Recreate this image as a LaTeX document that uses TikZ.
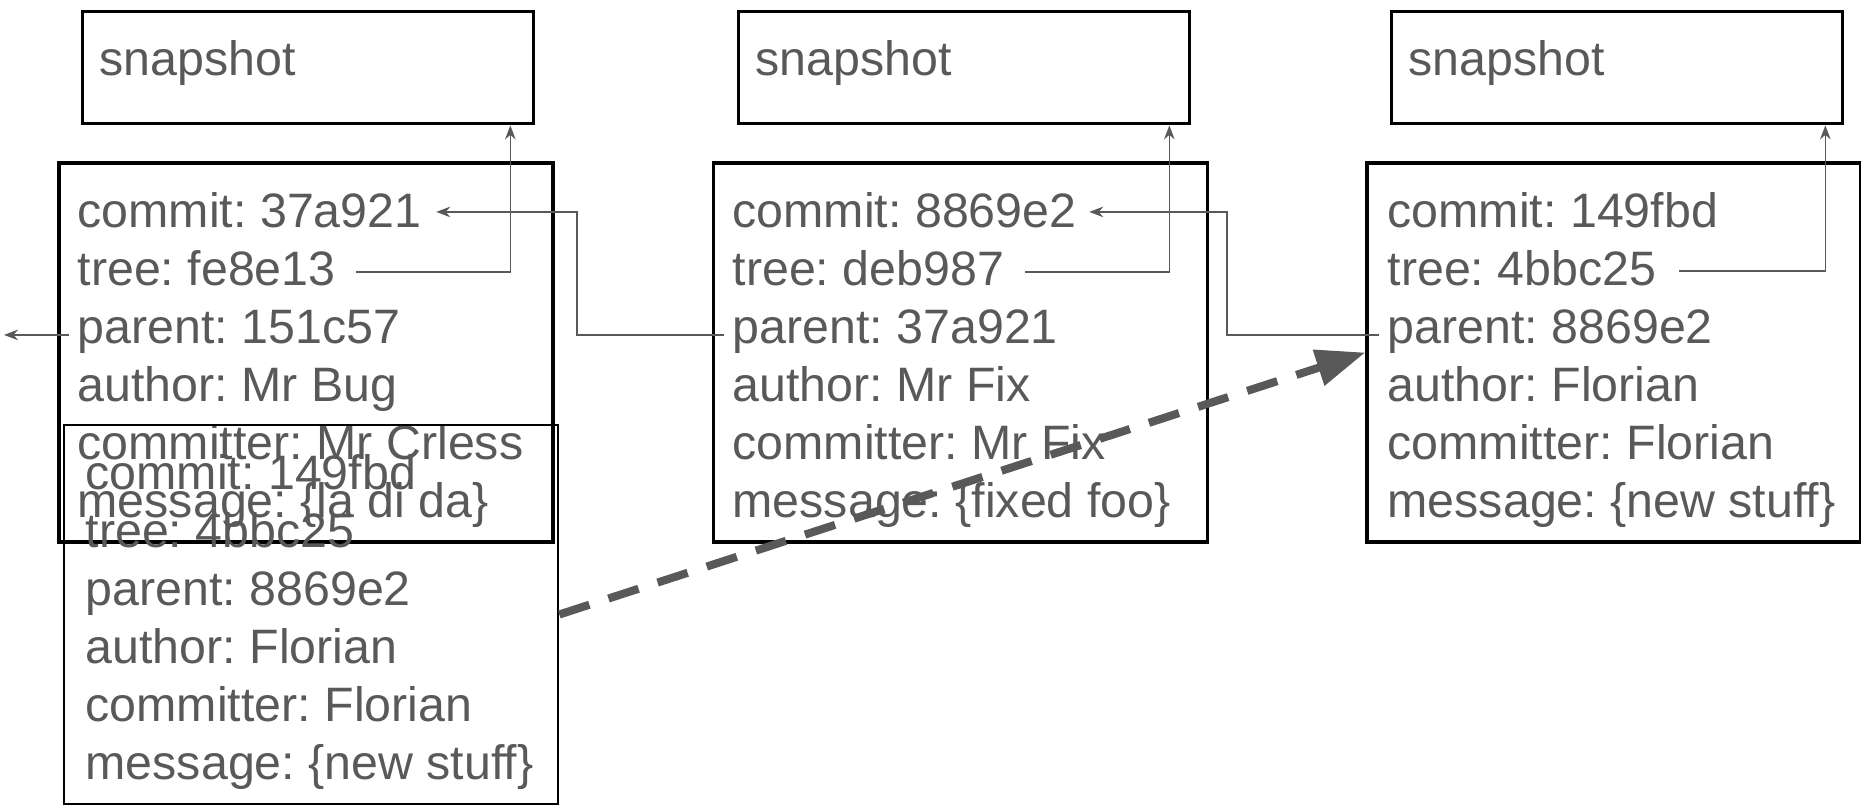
\documentclass[tikz,border=0pt]{standalone}
\usepackage{fontspec}
\setmainfont{Liberation Sans}
\usetikzlibrary{arrows.meta}
\definecolor{ink}{HTML}{595959}
\frenchspacing

\begin{document}
\begin{tikzpicture}[
		font=\fontsize{13.75pt}{16.5pt}\selectfont,
		snapbox/.style={draw, line width=0.95pt, anchor=north west, inner xsep=0.17cm, inner ysep=0cm, text width=4.17cm, text height=0.645cm, text depth=0.48cm, text=ink},
		commitbox/.style={draw, line width=0.95pt, inner sep=0cm, minimum width=4.94cm, minimum height=3.79cm},
		row/.style={anchor=base west, inner xsep=0.08cm, inner ysep=0cm, text height=0.7em, text depth=0.24em, text=ink},
		link/.style={ink, line width=0.45pt},
		headed/.style={-{Stealth[length=4pt,width=3pt]}}
	]
			\useasboundingbox (0,0) rectangle (18.61,-8.05);

			\node[snapbox] (s1) at (0.81,-0.095) {snapshot};
			\node[snapbox] (s2) at (7.37,-0.095) {snapshot};
			\node[snapbox] (s3) at (13.90,-0.095) {snapshot};

			\node[commitbox] (k1) at (3.06,-3.525) {};
			\node[row] (c1commit) at (0.69,-2.27) {commit: 37a921};
			\node[row] (c1tree) at (0.69,-2.85) {tree: fe8e13};
			\node[row] (c1parent) at (0.69,-3.43) {parent: 151c57};
			\node[row] (c1author) at (0.69,-4.01) {author: Mr Bug};
			\node[row] (c1committer) at (0.69,-4.59) {committer: Mr Crless};
			\node[row] (c1message) at (0.69,-5.17) {message: \{la di da\}};

			\node[commitbox] (k2) at (9.605,-3.525) {};
			\node[row] (c2commit) at (7.24,-2.27) {commit: 8869e2};
			\node[row] (c2tree) at (7.24,-2.85) {tree: deb987};
			\node[row] (c2parent) at (7.24,-3.43) {parent: 37a921};
			\node[row] (c2author) at (7.24,-4.01) {author: Mr Fix};
			\node[row] (c2committer) at (7.24,-4.59) {committer: Mr Fix};
			\node[row] (c2message) at (7.24,-5.17) {message: \{fixed foo\}};

			\node[commitbox] (k3) at (16.14,-3.525) {};
			\node[row] (c3commit) at (13.79,-2.27) {commit: 149fbd};
			\node[row] (c3tree) at (13.79,-2.85) {tree: 4bbc25};
			\node[row] (c3parent) at (13.79,-3.43) {parent: 8869e2};
			\node[row] (c3author) at (13.79,-4.01) {author: Florian};
			\node[row] (c3committer) at (13.79,-4.59) {committer: Florian};
			\node[row] (c3message) at (13.79,-5.17) {message: \{new stuff\}};

			\node[commitbox, line width=0.75pt] (k4) at (3.11,-6.145) {};
			\node[row] (c4commit) at (0.77,-4.89) {commit: 149fbd};
			\node[row] (c4tree) at (0.77,-5.47) {tree: 4bbc25};
			\node[row] (c4parent) at (0.77,-6.05) {parent: 8869e2};
			\node[row] (c4author) at (0.77,-6.63) {author: Florian};
			\node[row] (c4committer) at (0.77,-7.21) {committer: Florian};
			\node[row] (c4message) at (0.77,-7.79) {message: \{new stuff\}};

			\draw[link,headed] ([xshift=0.12cm,yshift=0.05cm]c1tree.east) -| ([xshift=-0.25cm]s1.south east);
			\draw[link,headed] ([xshift=0.12cm,yshift=0.05cm]c2tree.east) -| ([xshift=-0.22cm]s2.south east);
			\draw[link,headed] ([xshift=0.14cm,yshift=0.06cm]c3tree.east) -| ([xshift=-0.19cm]s3.south east);

			\draw[link,headed] (c2parent.west) -- ++(-1.47,0) |- ([xshift=0.06cm,yshift=0.07cm]c1commit.east);
			\draw[link,headed] (c3parent.west) -- ++(-1.52,0) |- ([xshift=0.04cm,yshift=0.07cm]c2commit.east);
			\coordinate (away) at (0.04,0);
			\draw[link,headed] (c1parent.west) -- (c1parent.west -| away);

			\draw[ink, line width=2.3pt, dash pattern=on 9pt off 5.7pt, -{Triangle[length=14pt,width=10.2pt]}] (k4.east) -- (k3.west);
		\end{tikzpicture}
\end{document}
